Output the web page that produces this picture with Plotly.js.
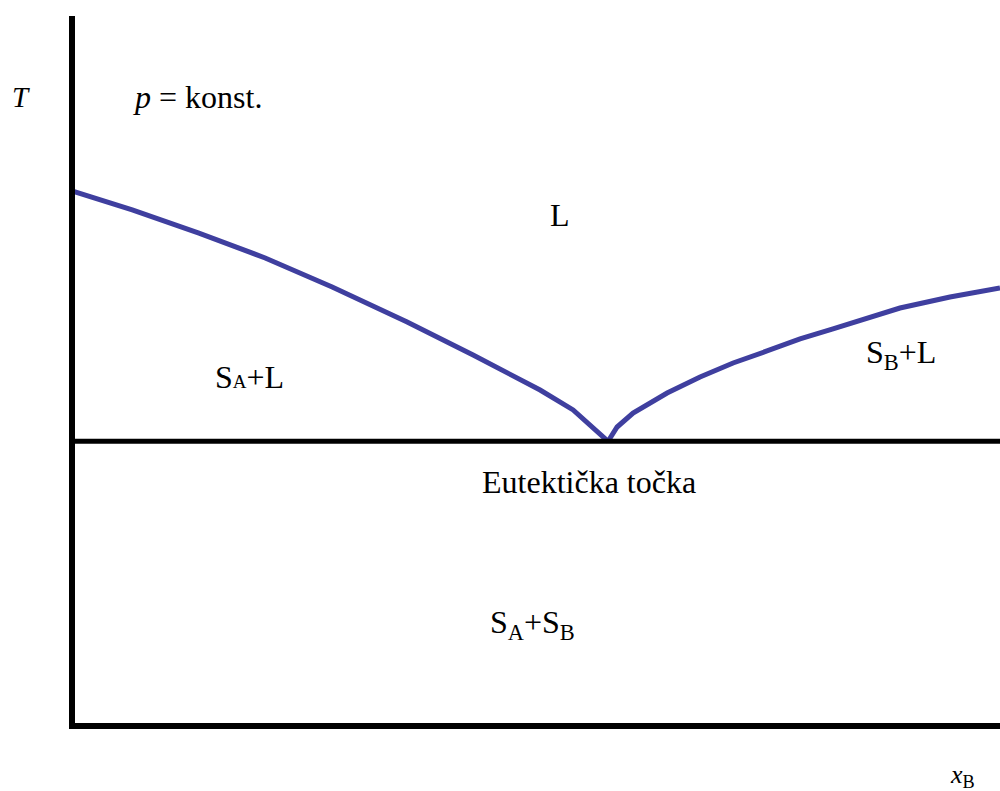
<!DOCTYPE html>
<html>
<head>
<meta charset="utf-8">
<script src="https://cdn.plot.ly/plotly-3.0.1.min.js"></script>
<style>html,body{margin:0;padding:0;background:#fff;}#chart{width:1000px;height:791px;}</style>
</head>
<body>
<div id="chart"></div>
<script>
// Liquidus curve, A side (x_B, T)
var liqA_x = [0, 0.0647, 0.1358, 0.2080, 0.2802, 0.3610, 0.4321, 0.5043, 0.5399, 0.5776];
var liqA_T = [75.35, 72.68, 69.44, 65.92, 61.83, 56.90, 52.25, 47.32, 44.51, 40.1];
// Liquidus curve, B side
var liqB_x = [0.5776, 0.5873, 0.6045, 0.6412, 0.6767, 0.7123, 0.7489, 0.7845, 0.8200, 0.8567, 0.8922, 0.9461, 1.0];
var liqB_T = [40.1, 42.11, 44.08, 46.90, 49.15, 51.13, 52.82, 54.51, 55.92, 57.46, 58.87, 60.42, 61.69];
// Eutectic line
var eut_x = [0, 1];
var eut_T = [40.1, 40.1];
// Labels inside the diagram (data coordinates)
var lab_text = ['<i>p</i> = konst.', 'L',
  'S<span style="font-size:19px">A</span>+L',
  'S<sub>B</sub>+L', 'Eutektička točka',
  'S<sub>A</sub>+S<sub>B</sub>'];
var lab_x = [0.135, 0.526, 0.191, 0.893, 0.557, 0.496];
var lab_T = [88.6, 72.0, 49.15, 52.3, 34.4, 14.3];
// Axis labels (paper coordinates)
var axlab_text = ['<i>T</i>', '<i>x</i><sub>B</sub>'];
var axlab_x = [-0.0584, 0.959];
var axlab_y = [0.885, -0.0745];
var axlab_size = [29, 26];

var FONT = 'Liberation Serif';
var blue = '#3f3f9f';
var traces = [
  {x: liqA_x, y: liqA_T, mode: 'lines', line: {color: blue, width: 5}, hoverinfo: 'skip'},
  {x: liqB_x, y: liqB_T, mode: 'lines', line: {color: blue, width: 5}, hoverinfo: 'skip'},
  {x: eut_x, y: eut_T, mode: 'lines', line: {color: '#000', width: 5}, hoverinfo: 'skip'}
];
var annotations = lab_text.map(function(t, i) {
  return {text: t, x: lab_x[i], y: lab_T[i], xref: 'x', yref: 'y', showarrow: false,
          xanchor: 'center', yanchor: 'middle',
          font: {family: FONT, size: 32, color: '#000'}};
});
axlab_text.forEach(function(t, i) {
  annotations.push({text: t, x: axlab_x[i], y: axlab_y[i], xref: 'paper', yref: 'paper',
    showarrow: false, xanchor: 'center', yanchor: 'middle',
    font: {family: FONT, size: axlab_size[i], color: '#000'}});
});
var layout = {
  width: 1000, height: 791,
  margin: {l: 75, r: 0, t: 16, b: 68, pad: 0},
  paper_bgcolor: '#fff', plot_bgcolor: '#fff',
  showlegend: false,
  font: {family: FONT},
  xaxis: {range: [0.003, 1], showline: true, linewidth: 6, linecolor: '#000',
          showgrid: false, zeroline: false, showticklabels: false, ticks: ''},
  yaxis: {range: [0.42, 100], showline: true, linewidth: 6, linecolor: '#000',
          showgrid: false, zeroline: false, showticklabels: false, ticks: ''},
  annotations: annotations
};
Plotly.newPlot('chart', traces, layout, {staticPlot: true});
</script>
</body>
</html>
